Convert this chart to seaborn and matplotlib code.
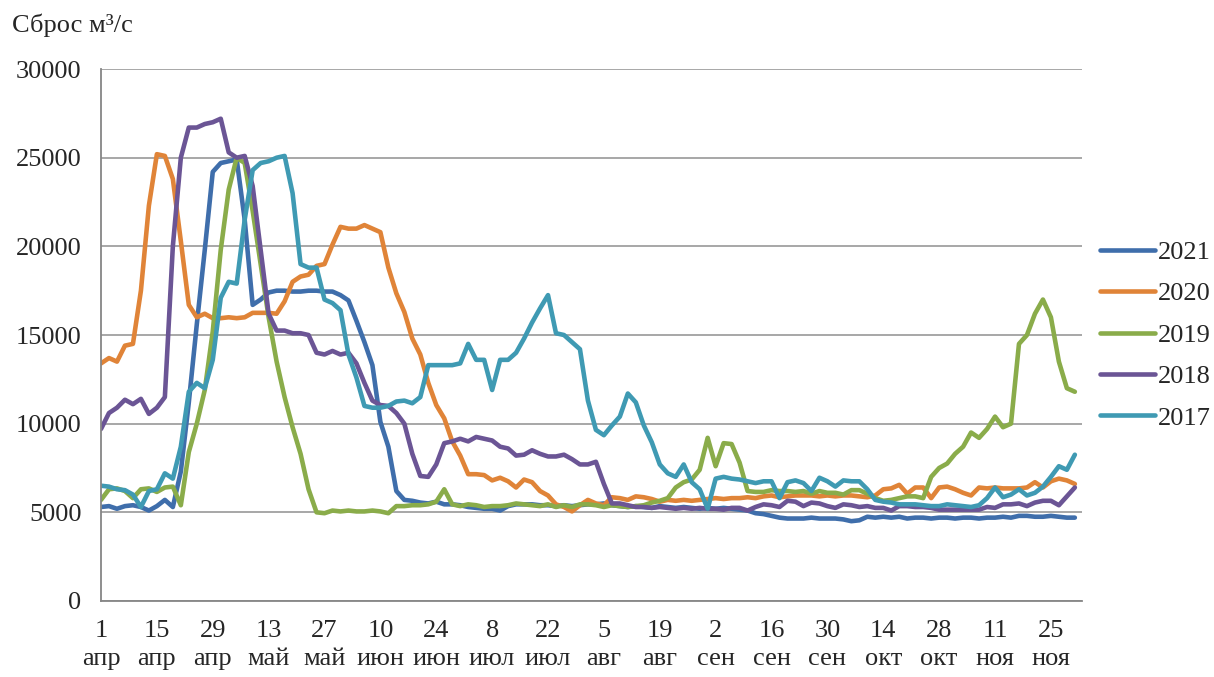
import numpy as np
import pandas as pd
import seaborn as sns
import matplotlib.pyplot as plt

# days since 1 April, every second day
days = np.arange(0, 245, 2)

years = ["2021", "2020", "2019", "2018", "2017"]
colors = ["#3f6eab", "#e08438", "#8aac4a", "#6b5595", "#3f9ab3"]

q2021 = [5300, 5350, 5200, 5350, 5400, 5300, 5100, 5350, 5700, 5300,
         7300, 11200, 15600, 19800, 24200, 24700, 24800, 24900, 21500, 16700,
         17000, 17400, 17500, 17500, 17450, 17450, 17500, 17500, 17450, 17450,
         17250, 16950, 15800, 14600, 13300, 10100, 8700, 6200, 5700, 5650,
         5550, 5500, 5600, 5450, 5450, 5400, 5300, 5250, 5200, 5200,
         5100, 5350, 5450, 5450, 5450, 5400, 5400, 5350, 5400, 5350,
         5400, 5450, 5450, 5500, 5400, 5350, 5300, 5350, 5300, 5250,
         5350, 5300, 5250, 5300, 5250, 5200, 5250, 5200, 5250, 5200,
         5150, 5100, 4950, 4900, 4800, 4700, 4650, 4650, 4650, 4700,
         4650, 4650, 4650, 4600, 4500, 4550, 4750, 4700, 4750, 4700,
         4750, 4650, 4700, 4700, 4650, 4700, 4700, 4650, 4700, 4700,
         4650, 4700, 4700, 4750, 4700, 4800, 4800, 4750, 4750, 4800,
         4750, 4700, 4700]

q2020 = [13400, 13700, 13500, 14400, 14500, 17500, 22300, 25200, 25100, 23800,
         20300, 16700, 16000, 16200, 15950, 15950, 16000, 15950, 16000, 16250,
         16250, 16250, 16200, 16900, 18000, 18300, 18400, 18900, 19000, 20100,
         21100, 21000, 21000, 21200, 21000, 20800, 18800, 17350, 16300, 14800,
         13900, 12300, 11050, 10300, 9000, 8200, 7150, 7150, 7100, 6800,
         6950, 6750, 6400, 6850, 6700, 6200, 5950, 5450, 5300, 5050,
         5400, 5700, 5500, 5400, 5850, 5800, 5700, 5900, 5850, 5750,
         5600, 5700, 5650, 5700, 5650, 5700, 5750, 5800, 5750, 5800,
         5800, 5850, 5800, 5900, 5950, 5850, 5900, 5950, 5950, 5950,
         5900, 5950, 5900, 5950, 5950, 5900, 5850, 5950, 6300, 6350,
         6550, 6050, 6400, 6400, 5800, 6400, 6450, 6300, 6100, 5950,
         6400, 6350, 6400, 6350, 6350, 6350, 6400, 6700, 6400, 6750,
         6900, 6800, 6600]

q2019 = [5700, 6300, 6350, 6200, 5800, 6300, 6350, 6150, 6400, 6450,
         5400, 8400, 10000, 11900, 15200, 19800, 23200, 25000, 24700, 22000,
         19000, 16000, 13500, 11500, 9800, 8300, 6300, 5000, 4950, 5100,
         5050, 5100, 5050, 5050, 5100, 5050, 4950, 5350, 5350, 5400,
         5400, 5450, 5600, 6300, 5450, 5350, 5450, 5400, 5300, 5350,
         5350, 5400, 5500, 5450, 5400, 5350, 5450, 5300, 5400, 5300,
         5450, 5450, 5400, 5300, 5400, 5350, 5300, 5350, 5400, 5550,
         5650, 5800, 6400, 6700, 6850, 7400, 9200, 7600, 8900, 8850,
         7800, 6200, 6150, 6150, 6250, 6200, 6200, 6150, 6200, 6050,
         6200, 6100, 6100, 6000, 6250, 6250, 6050, 5800, 5650, 5700,
         5800, 5900, 5900, 5800, 7000, 7500, 7750, 8300, 8700, 9500,
         9200, 9700, 10400, 9800, 10000, 14500, 15000, 16200, 17000, 16000,
         13500, 12000, 11800]

q2018 = [9700, 10600, 10900, 11350, 11100, 11400, 10550, 10900, 11500, 20000,
         25000, 26700, 26700, 26900, 27000, 27200, 25300, 25000, 25100, 23400,
         19800, 16200, 15250, 15250, 15100, 15100, 15000, 14000, 13900, 14100,
         13900, 14000, 13400, 12300, 11300, 11050, 11000, 10600, 10000, 8300,
         7050, 7000, 7700, 8900, 9000, 9150, 9000, 9250, 9150, 9050,
         8700, 8600, 8200, 8250, 8500, 8300, 8150, 8150, 8250, 8000,
         7700, 7700, 7850, 6600, 5500, 5500, 5400, 5300, 5300, 5250,
         5300, 5250, 5200, 5250, 5200, 5250, 5200, 5200, 5150, 5250,
         5250, 5100, 5300, 5450, 5400, 5300, 5650, 5600, 5350, 5550,
         5500, 5350, 5250, 5450, 5400, 5300, 5350, 5250, 5250, 5100,
         5350, 5350, 5300, 5300, 5250, 5150, 5150, 5150, 5150, 5150,
         5150, 5300, 5250, 5450, 5450, 5500, 5350, 5550, 5650, 5650,
         5400, 5900, 6400]

q2017 = [6500, 6450, 6300, 6250, 6000, 5300, 6200, 6300, 7200, 6900,
         8700, 11800, 12300, 12000, 13600, 17100, 18000, 17900, 21500, 24300,
         24700, 24800, 25000, 25100, 23000, 19000, 18800, 18800, 17000, 16800,
         16400, 13900, 12600, 11000, 10900, 10900, 11000, 11250, 11300, 11150,
         11500, 13300, 13300, 13300, 13300, 13400, 14500, 13600, 13600, 11900,
         13600, 13600, 14000, 14800, 15700, 16500, 17250, 15100, 15000, 14600,
         14200, 11300, 9650, 9350, 9900, 10400, 11700, 11200, 9900, 8950,
         7700, 7200, 7000, 7700, 6700, 6300, 5200, 6900, 7000, 6900,
         6850, 6750, 6650, 6750, 6750, 5800, 6700, 6800, 6650, 6200,
         6950, 6750, 6450, 6800, 6750, 6750, 6300, 5700, 5600, 5550,
         5450, 5450, 5450, 5400, 5350, 5350, 5450, 5400, 5350, 5300,
         5400, 5800, 6400, 5850, 6000, 6300, 5950, 6100, 6450, 7000,
         7600, 7400, 8250]

tick_days = np.arange(0, 239, 14)
tick_labels = ["1\nапр", "15\nапр", "29\nапр", "13\nмай", "27\nмай", "10\nиюн",
               "24\nиюн", "8\nиюл", "22\nиюл", "5\nавг", "19\nавг", "2\nсен",
               "16\nсен", "30\nсен", "14\nокт", "28\nокт", "11\nноя", "25\nноя"]

sns.set_style("white")
plt.rcParams['font.family'] = ['Liberation Serif', 'DejaVu Serif']
FS = 19

fig, ax = plt.subplots(figsize=(12.14, 6.77), dpi=100)
fig.subplots_adjust(left=0.0832, right=0.8913, top=0.898, bottom=0.1123)

series = [q2021, q2020, q2019, q2018, q2017]
for year, vals, col in zip(years, series, colors):
    sns.lineplot(x=days, y=vals, ax=ax, color=col, lw=3.3, label=year)

ax.set_xlim(0, 245.8)
ax.set_ylim(0, 30000)
ax.set_yticks(np.arange(0, 30001, 5000))
ax.set_xticks(tick_days)
ax.set_xticklabels(tick_labels, fontsize=FS, linespacing=1.3)
ax.tick_params(axis='y', labelsize=FS, direction='out', length=6, color='#868686', pad=8)
ax.tick_params(axis='x', direction='out', length=6, color='#868686', pad=8)
ax.grid(axis='y', color='#a0a0a0', lw=1.3)
ax.set_axisbelow(True)
for s in ['top', 'right']:
    ax.spines[s].set_visible(False)
for s in ['left', 'bottom']:
    ax.spines[s].set_color('#868686')
    ax.spines[s].set_linewidth(1.3)
ax.set_xlabel("")
ax.set_ylabel("")

ax.legend(loc='center left', bbox_to_anchor=(1.01, 0.5), frameon=False, fontsize=FS,
          handlelength=2.1, handletextpad=0.12, labelspacing=0.68, borderaxespad=0,
          borderpad=0.3)

fig.text(0.01, 1 - 25 / 677, "Сброс м³/с", fontsize=FS, va='center', ha='left')

plt.savefig("out.png", dpi=100)
